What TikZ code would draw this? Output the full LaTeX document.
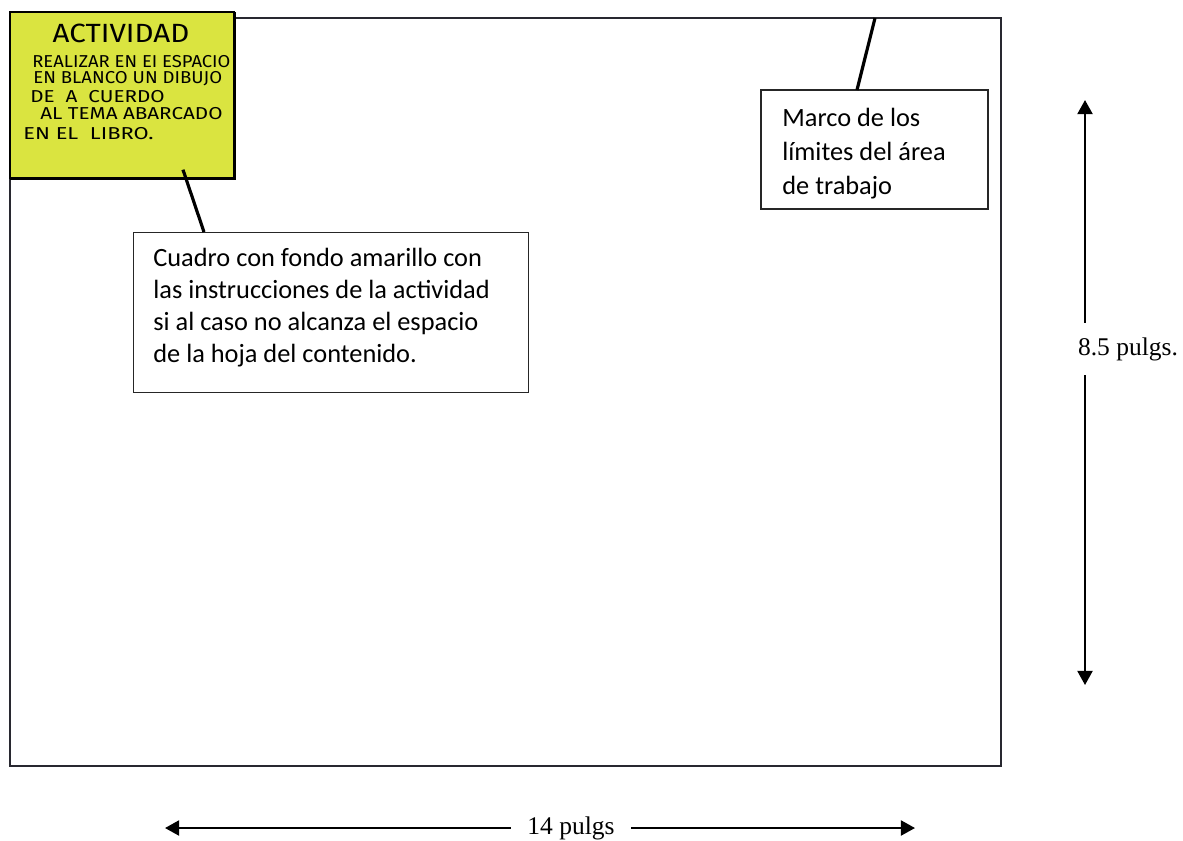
\documentclass[tikz,border=0pt]{standalone}
\usepackage{fontspec}
\setmainfont{Liberation Serif}
\newfontfamily\calibri{Carlito}
\newfontfamily\marker{Fira Sans}
\usetikzlibrary{positioning,arrows.meta}
\definecolor{activyellow}{RGB}{218,228,64}
\definecolor{framegray}{RGB}{40,40,48}

\begin{document}
\begin{tikzpicture}[x=0.02cm, y=-0.02cm,
    notebox/.style={rectangle, draw=black!85, line width=0.6pt, fill=white, anchor=north west, inner sep=0pt},
    notetext/.style={anchor=north west, align=left, inner sep=0pt},
    handtext/.style={anchor=west, inner sep=0pt, font=\marker\fontsize{9.8}{11}\selectfont},
    leader/.style={line width=1.8pt},
    dimarrow/.style={line width=1.3pt, -{Triangle[length=8pt,width=8.5pt]}},
    dimlabel/.style={inner sep=0pt, font=\fontsize{14.5}{17}\selectfont}
]
    \useasboundingbox (0,0) rectangle (1183,840);

    % Work area frame
    \draw[framegray, line width=1pt] (10,18) rectangle (1001,766);
    \coordinate (frametop) at (875,18);

    % Yellow activity box
    \node[fill=activyellow, minimum width=4.48cm, minimum height=3.32cm, anchor=north west, inner sep=0pt] (actividad) at (10,12) {};
    \draw[line width=0.7pt] (actividad.south west) -- (actividad.north west) -- (actividad.north east);
    \draw[line width=1.8pt] (actividad.south west) -- (actividad.south east) -- (actividad.north east);
    \node[inner sep=0pt, font=\marker\fontsize{15}{16}\selectfont] (acttitle) at (121,33) {\scalebox{1.12}[1]{ACTIVIDAD}};
    \node[handtext] (act1) at (32,62) {\scalebox{1.07}[1]{REALIZAR EN EI ESPACIO}};
    \node[handtext] (act2) at (33,79) {\scalebox{1.08}[1]{EN BLANCO UN DIBUJO}};
    \node[handtext] (act3) at (30,97) {\scalebox{1.2}[1]{DE\ \ A\ \ CUERDO}};
    \node[handtext] (act4) at (40,114) {\scalebox{1.2}[1]{AL TEMA ABARCADO}};
    \node[handtext] (act5) at (23,134) {\scalebox{1.27}[1]{EN EL\ \ LIBRO.}};

    % Note on the yellow box
    \node[notebox, minimum width=7.9cm, minimum height=3.2cm] (cuadro) at (133,232) {};
    \node[notetext, font=\calibri\fontsize{15}{18.1}\selectfont] (cuadrotext) at (153,248)
        {Cuadro con fondo amarillo con\\las instrucciones de la actividad\\si al caso no alcanza el espacio\\de la hoja del contenido.};
    \coordinate (actpoint) at ([xshift=3.46cm, yshift=0.18cm]actividad.south west);
    \draw[leader] (actpoint) -- ([xshift=1.42cm]cuadro.north west);

    % Note on the frame
    \node[notebox, minimum width=4.52cm, minimum height=2.36cm] (marco) at (761,90) {};
    \begin{scope}
        \clip (marco.south west) rectangle (marco.north east);
        \node[notetext, font=\calibri\fontsize{15}{19.3}\selectfont] (marcotext) at (782,108)
            {Marco de los\\límites del área\\de trabajo};
    \end{scope}
    \draw[line width=0.6pt, black!85] (marco.south west) rectangle (marco.north east);
    \draw[leader] (frametop) -- ([xshift=1.92cm]marco.north west);

    % Dimensions
    \coordinate (vtop) at (1085,100);
    \coordinate (vbot) at (1085,685);
    \node[dimlabel, minimum height=1.04cm] (vlabel) at (1128,349) {8.5 pulgs.};
    \draw[dimarrow] (vlabel.north -| vtop) -- (vtop);
    \draw[dimarrow] (vlabel.south -| vbot) -- (vbot);

    \coordinate (hleft) at (165,828);
    \coordinate (hright) at (915,828);
    \node[dimlabel, minimum width=2.4cm] (hlabel) at (571,828) {14 pulgs};
    \draw[dimarrow] (hlabel.west) -- (hleft);
    \draw[dimarrow] (hlabel.east) -- (hright);
\end{tikzpicture}
\end{document}
